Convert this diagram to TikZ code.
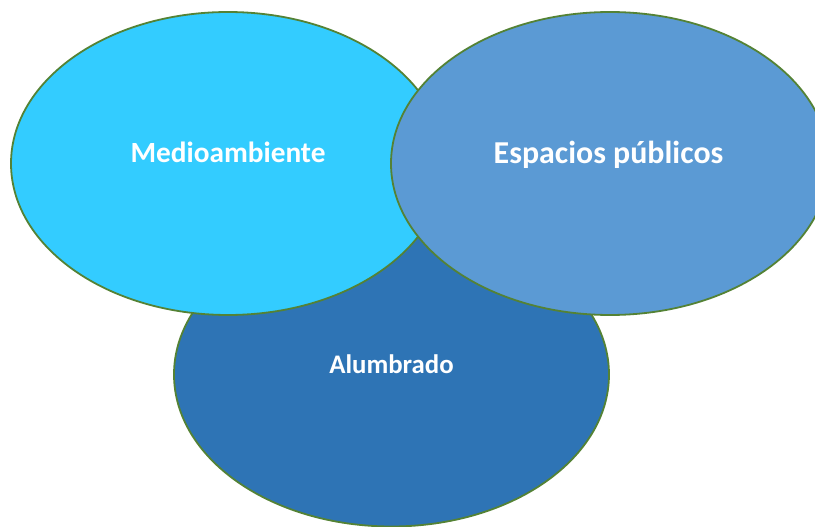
\documentclass[tikz,border=0pt]{standalone}
\usepackage{fontspec}
\setmainfont{Carlito}
\usetikzlibrary{shapes.geometric}
\definecolor{cMedio}{HTML}{33CCFF}
\definecolor{cEsp}{HTML}{5B9AD4}
\definecolor{cAlum}{HTML}{2E74B5}
\definecolor{cLine}{HTML}{548235}
\tikzset{
  blob/.style={ellipse, draw=cLine, line width=1.8pt, inner sep=0pt},
  lbl/.style={text=white, font=\bfseries, inner sep=0pt, anchor=base}
}
\begin{document}
\begin{tikzpicture}[x=1pt,y=-1pt]
\useasboundingbox (0,0) rectangle (815,527);
\clip (0,0) rectangle (815,527);
\node[blob, fill=cAlum, minimum width=435pt, minimum height=304pt] (alum) at (391.5,374.5) {};
\node[blob, fill=cMedio, minimum width=434pt, minimum height=303pt] (medio) at (228,163.5) {};
\node[blob, fill=cEsp, minimum width=438pt, minimum height=303pt] (esp) at (610,163.5) {};
\node[lbl, font=\bfseries\fontsize{29.3}{34}\selectfont] (tmedio) at (228,162.3) {Medioambiente};
\node[lbl, font=\bfseries\fontsize{31.9}{37}\selectfont] (tesp) at (608.5,163.3) {Espacios públicos};
\node[lbl, font=\bfseries\fontsize{26.8}{31}\selectfont] (talum) at (391.5,373) {Alumbrado};
\end{tikzpicture}
\end{document}
